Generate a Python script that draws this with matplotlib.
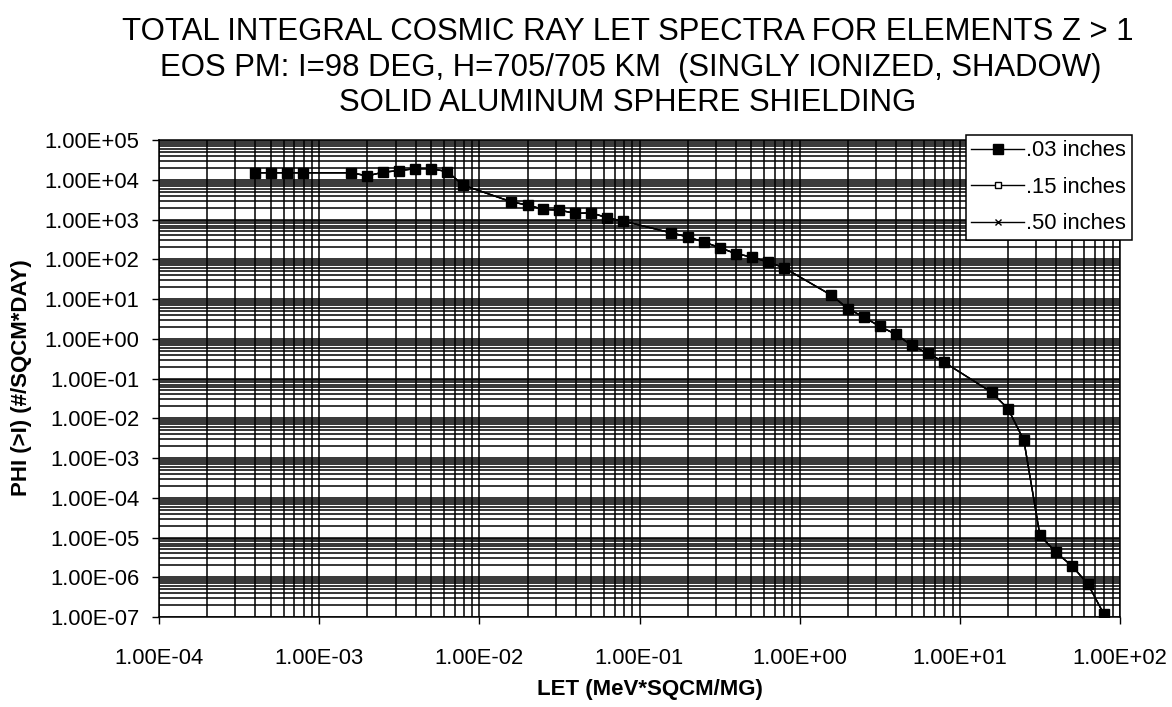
import numpy as np
import matplotlib
matplotlib.use("Agg")
import matplotlib.pyplot as plt
import matplotlib.ticker as mtick

# LET values (MeV*sqcm/mg) and integral flux (#/sqcm*day)
let_vals = [3.98e-4, 5.01e-4, 6.31e-4, 7.94e-4, 1.58e-3, 2.00e-3, 2.51e-3, 3.16e-3,
            3.98e-3, 5.01e-3, 6.31e-3, 7.94e-3, 1.58e-2, 2.00e-2, 2.51e-2, 3.16e-2,
            3.98e-2, 5.01e-2, 6.31e-2, 7.94e-2, 0.158, 0.200, 0.251, 0.316,
            0.398, 0.501, 0.631, 0.794, 1.58, 2.00, 2.51, 3.16,
            3.98, 5.01, 6.31, 7.94, 15.8, 20.0, 25.1, 31.6,
            39.8, 50.1, 63.1, 79.4]

phi_003 = [1.5e4, 1.5e4, 1.5e4, 1.5e4, 1.5e4, 1.25e4, 1.55e4, 1.7e4,
           1.9e4, 1.9e4, 1.6e4, 7.3e3, 2.8e3, 2.3e3, 1.8e3, 1.72e3,
           1.42e3, 1.47e3, 1.1e3, 9.1e2, 4.6e2, 3.65e2, 2.73e2, 1.97e2,
           1.39e2, 1.14e2, 85.6, 61.8, 12.4, 5.73, 3.52, 2.05,
           1.3, 0.68, 0.43, 0.26, 0.045, 0.0173, 2.8e-3, 1.15e-5,
           4.2e-6, 1.94e-6, 6.7e-7, 1.17e-7]

# the thicker shields give practically the same spectrum
phi_015 = list(phi_003)
phi_050 = list(phi_003)

x_decades = [1e-4, 1e-3, 1e-2, 1e-1, 1e0, 1e1, 1e2]
y_decades = [1e-7, 1e-6, 1e-5, 1e-4, 1e-3, 1e-2, 1e-1, 1e0, 1e1, 1e2, 1e3, 1e4, 1e5]

W, H = 1172, 707
fig = plt.figure(figsize=(W / 100, H / 100), dpi=100)
ax = fig.add_axes([159 / W, 1 - 617 / H, (1120 - 159) / W, (617 - 140) / H])

ax.plot(let_vals, phi_050, color="black", lw=1, marker="x", ms=5, mew=1, label=".50 inches", zorder=3)
ax.plot(let_vals, phi_015, color="black", lw=1, marker="s", ms=5, mfc="white", mec="black",
        label=".15 inches", zorder=4)
ax.plot(let_vals, phi_003, color="black", lw=1, marker="s", ms=7.8, mfc="black", mec="black",
        label=".03 inches", zorder=5)

ax.set_xscale("log")
ax.set_yscale("log")
ax.set_xlim(1e-4, 1e2)
ax.set_ylim(1e-7, 1e5)

ax.set_xticks(x_decades)
ax.set_yticks(y_decades)
ax.xaxis.set_minor_locator(mtick.LogLocator(base=10, subs=np.arange(2, 10), numticks=20))
ax.yaxis.set_minor_locator(mtick.LogLocator(base=10, subs=np.arange(2, 10), numticks=20))
sci = mtick.FuncFormatter(lambda v, pos: f"{v:.2E}")
ax.xaxis.set_major_formatter(sci)
ax.yaxis.set_major_formatter(sci)
ax.xaxis.set_minor_formatter(mtick.NullFormatter())
ax.yaxis.set_minor_formatter(mtick.NullFormatter())
ax.set_xlim(1e-4, 1e2)
ax.set_ylim(1e-7, 1e5)

ax.grid(True, which="both", color="black", linewidth=1.1)
ax.set_axisbelow(True)
for sp in ax.spines.values():
    sp.set_color("black")
    sp.set_linewidth(1.1)

ax.tick_params(which="major", direction="out", length=5, width=1, color="black",
               labelsize=15.8, labelfontfamily="Liberation Sans")
ax.tick_params(axis="x", which="major", pad=17)
ax.tick_params(axis="y", which="major", pad=9)
ax.tick_params(which="minor", length=0, labelbottom=False, labelleft=False)

# titles and axis labels
fig.text(628 / W, 1 - 32 / H, "TOTAL INTEGRAL COSMIC RAY LET SPECTRA FOR ELEMENTS Z > 1",
         ha="center", va="center", fontsize=22.4, family="Liberation Sans")
fig.text(631 / W, 1 - 68 / H, "EOS PM: I=98 DEG, H=705/705 KM  (SINGLY IONIZED, SHADOW)",
         ha="center", va="center", fontsize=22.4, family="Liberation Sans")
fig.text(628 / W, 1 - 103 / H, "SOLID ALUMINUM SPHERE SHIELDING",
         ha="center", va="center", fontsize=22.4, family="Liberation Sans")

fig.text(650 / W, 1 - 690 / H, "LET (MeV*SQCM/MG)", ha="center", va="center",
         fontsize=16, fontweight="bold", family="Liberation Sans")
fig.text(22 / W, 1 - 378 / H, "PHI (>I) (#/SQCM*DAY)", ha="center", va="center",
         rotation=90, fontsize=16, fontweight="bold", family="Liberation Sans")

handles, labels = ax.get_legend_handles_labels()
leg = ax.legend(handles[::-1], labels[::-1], loc="upper left",
                bbox_to_anchor=(966 / W, 1 - 135 / H), bbox_transform=fig.transFigure,
                frameon=True, fancybox=False, framealpha=1, edgecolor="black",
                borderaxespad=0, borderpad=0.25, labelspacing=0.7, handlelength=2.4,
                handletextpad=0.1, prop={"family": "Liberation Sans", "size": 15.8})
leg.get_frame().set_linewidth(1.1)
leg.set_zorder(10)

fig.savefig("out.png", dpi=100, facecolor="white")
